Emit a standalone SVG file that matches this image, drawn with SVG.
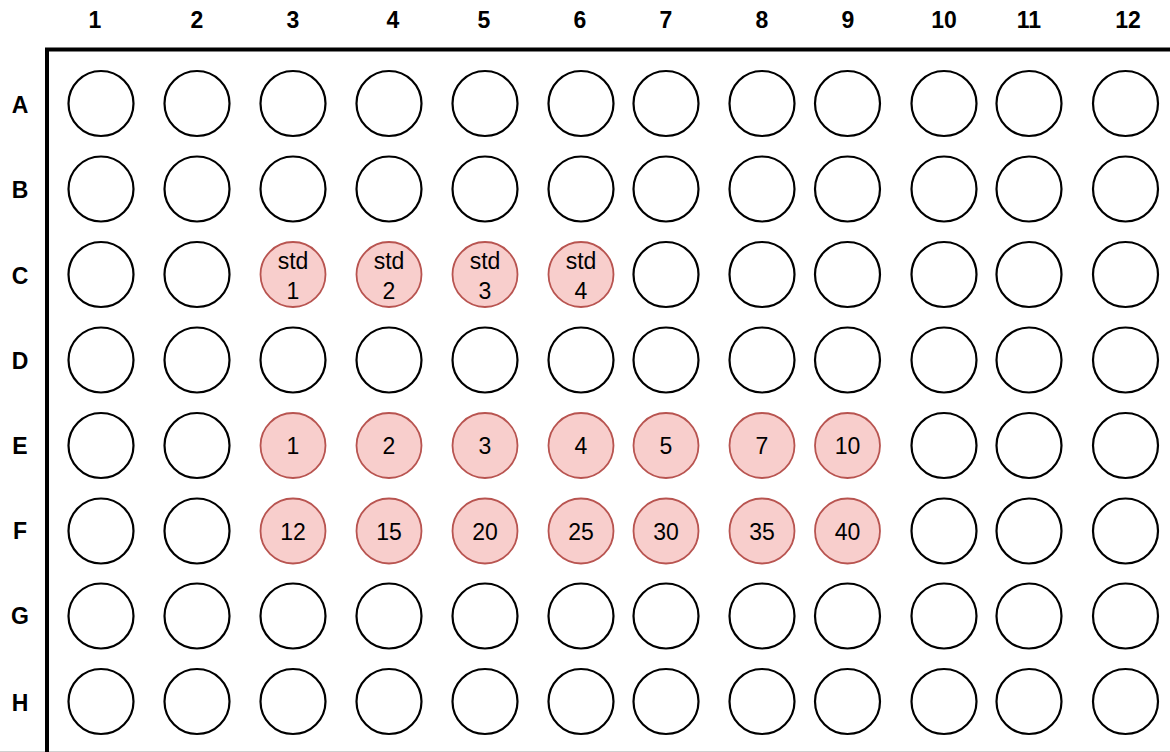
<svg xmlns="http://www.w3.org/2000/svg" width="1170" height="752" viewBox="0 0 1170 752">
<style>
.hdr{font-family:"Liberation Sans",Arial,sans-serif;font-weight:bold;font-size:23px;fill:#000;text-anchor:middle}
.w{fill:#fff;stroke:#000;stroke-width:2.2}
.s{fill:#f8cecc;stroke:#b85450;stroke-width:1.8}
.t{font-family:"Liberation Sans",Arial,sans-serif;font-size:23px;fill:#000;text-anchor:middle}
</style>
<rect x="0" y="0" width="1170" height="752" fill="#fff"/>
<line x1="0" y1="751.5" x2="1170" y2="751.5" stroke="#d0d0d0" stroke-width="1"/>
<path d="M1172,49.5 H47 V752" fill="none" stroke="#000" stroke-width="4"/>
<g id="col-labels">
<text class="hdr" x="95" y="28">1</text>
<text class="hdr" x="197" y="28">2</text>
<text class="hdr" x="293" y="28">3</text>
<text class="hdr" x="393" y="28">4</text>
<text class="hdr" x="484" y="28">5</text>
<text class="hdr" x="580" y="28">6</text>
<text class="hdr" x="666" y="28">7</text>
<text class="hdr" x="762" y="28">8</text>
<text class="hdr" x="848" y="28">9</text>
<text class="hdr" x="944" y="28">10</text>
<text class="hdr" x="1029" y="28">11</text>
<text class="hdr" x="1128" y="28">12</text>
</g>
<g id="row-labels">
<text class="hdr" x="20" y="113">A</text>
<text class="hdr" x="20" y="198">B</text>
<text class="hdr" x="20" y="284">C</text>
<text class="hdr" x="20" y="369">D</text>
<text class="hdr" x="20" y="453.5">E</text>
<text class="hdr" x="20" y="538.5">F</text>
<text class="hdr" x="20" y="624">G</text>
<text class="hdr" x="20" y="711">H</text>
</g>
<g id="wells">
<g id="row-A">
<circle class="w" cx="101" cy="103.5" r="32.5"/><circle class="w" cx="197" cy="103.5" r="32.5"/><circle class="w" cx="293" cy="103.5" r="32.5"/><circle class="w" cx="389" cy="103.5" r="32.5"/><circle class="w" cx="485" cy="103.5" r="32.5"/><circle class="w" cx="581" cy="103.5" r="32.5"/><circle class="w" cx="666" cy="103.5" r="32.5"/><circle class="w" cx="762" cy="103.5" r="32.5"/><circle class="w" cx="847.5" cy="103.5" r="32.5"/><circle class="w" cx="944" cy="103.5" r="32.5"/><circle class="w" cx="1029" cy="103.5" r="32.5"/><circle class="w" cx="1125.5" cy="103.5" r="32.5"/>
</g>
<g id="row-B">
<circle class="w" cx="101" cy="189" r="32.5"/><circle class="w" cx="197" cy="189" r="32.5"/><circle class="w" cx="293" cy="189" r="32.5"/><circle class="w" cx="389" cy="189" r="32.5"/><circle class="w" cx="485" cy="189" r="32.5"/><circle class="w" cx="581" cy="189" r="32.5"/><circle class="w" cx="666" cy="189" r="32.5"/><circle class="w" cx="762" cy="189" r="32.5"/><circle class="w" cx="847.5" cy="189" r="32.5"/><circle class="w" cx="944" cy="189" r="32.5"/><circle class="w" cx="1029" cy="189" r="32.5"/><circle class="w" cx="1125.5" cy="189" r="32.5"/>
</g>
<g id="row-C">
<circle class="w" cx="101" cy="274.5" r="32.5"/><circle class="w" cx="197" cy="274.5" r="32.5"/>
<g id="C3"><circle class="s" cx="293" cy="274.5" r="32.5"/><text class="t" x="293" y="269">std</text><text class="t" x="293" y="299">1</text></g>
<g id="C4"><circle class="s" cx="389" cy="274.5" r="32.5"/><text class="t" x="389" y="269">std</text><text class="t" x="389" y="299">2</text></g>
<g id="C5"><circle class="s" cx="485" cy="274.5" r="32.5"/><text class="t" x="485" y="269">std</text><text class="t" x="485" y="299">3</text></g>
<g id="C6"><circle class="s" cx="581" cy="274.5" r="32.5"/><text class="t" x="581" y="269">std</text><text class="t" x="581" y="299">4</text></g>
<circle class="w" cx="666" cy="274.5" r="32.5"/><circle class="w" cx="762" cy="274.5" r="32.5"/><circle class="w" cx="847.5" cy="274.5" r="32.5"/><circle class="w" cx="944" cy="274.5" r="32.5"/><circle class="w" cx="1029" cy="274.5" r="32.5"/><circle class="w" cx="1125.5" cy="274.5" r="32.5"/>
</g>
<g id="row-D">
<circle class="w" cx="101" cy="360" r="32.5"/><circle class="w" cx="197" cy="360" r="32.5"/><circle class="w" cx="293" cy="360" r="32.5"/><circle class="w" cx="389" cy="360" r="32.5"/><circle class="w" cx="485" cy="360" r="32.5"/><circle class="w" cx="581" cy="360" r="32.5"/><circle class="w" cx="666" cy="360" r="32.5"/><circle class="w" cx="762" cy="360" r="32.5"/><circle class="w" cx="847.5" cy="360" r="32.5"/><circle class="w" cx="944" cy="360" r="32.5"/><circle class="w" cx="1029" cy="360" r="32.5"/><circle class="w" cx="1125.5" cy="360" r="32.5"/>
</g>
<g id="row-E">
<circle class="w" cx="101" cy="445.5" r="32.5"/><circle class="w" cx="197" cy="445.5" r="32.5"/>
<g id="E3"><circle class="s" cx="293" cy="445.5" r="32.5"/><text class="t" x="293" y="454">1</text></g>
<g id="E4"><circle class="s" cx="389" cy="445.5" r="32.5"/><text class="t" x="389" y="454">2</text></g>
<g id="E5"><circle class="s" cx="485" cy="445.5" r="32.5"/><text class="t" x="485" y="454">3</text></g>
<g id="E6"><circle class="s" cx="581" cy="445.5" r="32.5"/><text class="t" x="581" y="454">4</text></g>
<g id="E7"><circle class="s" cx="666" cy="445.5" r="32.5"/><text class="t" x="666" y="454">5</text></g>
<g id="E8"><circle class="s" cx="762" cy="445.5" r="32.5"/><text class="t" x="762" y="454">7</text></g>
<g id="E9"><circle class="s" cx="847.5" cy="445.5" r="32.5"/><text class="t" x="847.5" y="454">10</text></g>
<circle class="w" cx="944" cy="445.5" r="32.5"/><circle class="w" cx="1029" cy="445.5" r="32.5"/><circle class="w" cx="1125.5" cy="445.5" r="32.5"/>
</g>
<g id="row-F">
<circle class="w" cx="101" cy="531" r="32.5"/><circle class="w" cx="197" cy="531" r="32.5"/>
<g id="F3"><circle class="s" cx="293" cy="531" r="32.5"/><text class="t" x="293" y="539.5">12</text></g>
<g id="F4"><circle class="s" cx="389" cy="531" r="32.5"/><text class="t" x="389" y="539.5">15</text></g>
<g id="F5"><circle class="s" cx="485" cy="531" r="32.5"/><text class="t" x="485" y="539.5">20</text></g>
<g id="F6"><circle class="s" cx="581" cy="531" r="32.5"/><text class="t" x="581" y="539.5">25</text></g>
<g id="F7"><circle class="s" cx="666" cy="531" r="32.5"/><text class="t" x="666" y="539.5">30</text></g>
<g id="F8"><circle class="s" cx="762" cy="531" r="32.5"/><text class="t" x="762" y="539.5">35</text></g>
<g id="F9"><circle class="s" cx="847.5" cy="531" r="32.5"/><text class="t" x="847.5" y="539.5">40</text></g>
<circle class="w" cx="944" cy="531" r="32.5"/><circle class="w" cx="1029" cy="531" r="32.5"/><circle class="w" cx="1125.5" cy="531" r="32.5"/>
</g>
<g id="row-G">
<circle class="w" cx="101" cy="616" r="32.5"/><circle class="w" cx="197" cy="616" r="32.5"/><circle class="w" cx="293" cy="616" r="32.5"/><circle class="w" cx="389" cy="616" r="32.5"/><circle class="w" cx="485" cy="616" r="32.5"/><circle class="w" cx="581" cy="616" r="32.5"/><circle class="w" cx="666" cy="616" r="32.5"/><circle class="w" cx="762" cy="616" r="32.5"/><circle class="w" cx="847.5" cy="616" r="32.5"/><circle class="w" cx="944" cy="616" r="32.5"/><circle class="w" cx="1029" cy="616" r="32.5"/><circle class="w" cx="1125.5" cy="616" r="32.5"/>
</g>
<g id="row-H">
<circle class="w" cx="101" cy="701.5" r="32.5"/><circle class="w" cx="197" cy="701.5" r="32.5"/><circle class="w" cx="293" cy="701.5" r="32.5"/><circle class="w" cx="389" cy="701.5" r="32.5"/><circle class="w" cx="485" cy="701.5" r="32.5"/><circle class="w" cx="581" cy="701.5" r="32.5"/><circle class="w" cx="666" cy="701.5" r="32.5"/><circle class="w" cx="762" cy="701.5" r="32.5"/><circle class="w" cx="847.5" cy="701.5" r="32.5"/><circle class="w" cx="944" cy="701.5" r="32.5"/><circle class="w" cx="1029" cy="701.5" r="32.5"/><circle class="w" cx="1125.5" cy="701.5" r="32.5"/>
</g>
</g>
<g id="connectors"/>
</svg>
